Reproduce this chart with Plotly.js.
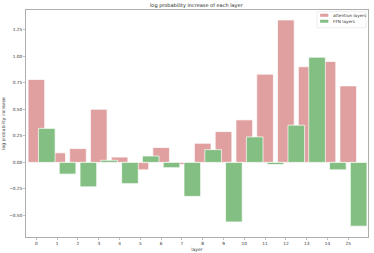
<!DOCTYPE html>
<html><head><meta charset="utf-8">
<script src="https://cdn.plot.ly/plotly-3.0.1.min.js"></script>
<style>html,body{margin:0;padding:0;background:#fff}#c{width:374px;height:253px}</style>
</head><body><div id="c"></div>
<script>
const layers = [0,1,2,3,4,5,6,7,8,9,10,11,12,13,14,15];
const layerLabels = ["0","1","2","3","4","5","6","7","8","9","10","11","12","13","14","25"];
const attentionValues = [0.78,0.09,0.13,0.50,0.05,-0.07,0.14,-0.02,0.18,0.29,0.40,0.83,1.34,0.90,0.95,0.72];
const ffnValues = [0.32,-0.11,-0.23,0.02,-0.20,0.06,-0.05,-0.32,0.12,-0.56,0.24,-0.02,0.35,0.99,-0.07,-0.60];
const yTicks = [-0.5,-0.25,0,0.25,0.5,0.75,1.0,1.25];
const seriesNames = ['attention layers','FFN layers'];
const seriesColors = ['rgb(224,160,159)','rgb(131,191,131)'];

const traces = [
  {type:'bar', name:seriesNames[0], x:layers, y:attentionValues, width:0.8,
   marker:{color:seriesColors[0], line:{color:'#fff', width:0.7}}},
  {type:'bar', name:seriesNames[1], x:layers.map(v=>v+0.5), y:ffnValues, width:0.8,
   marker:{color:seriesColors[1], line:{color:'#fff', width:0.7}}}
];
// small matplotlib-like legend drawn with shapes/annotations
const shapes = [
  {type:'rect', xref:'paper', yref:'paper', x0:0.851, x1:0.994, y0:0.922, y1:0.9925,
   fillcolor:'rgba(255,255,255,0.85)', line:{color:'#ddd', width:0.5}},
  {type:'rect', xref:'paper', yref:'paper', x0:0.860, x1:0.884, y0:0.970, y1:0.9837,
   fillcolor:seriesColors[0], line:{width:0}},
  {type:'rect', xref:'paper', yref:'paper', x0:0.860, x1:0.884, y0:0.944, y1:0.957,
   fillcolor:seriesColors[1], line:{width:0}}
];
const annotations = [
  {xref:'paper', yref:'paper', x:0.892, y:0.977, xanchor:'left', yanchor:'middle', showarrow:false,
   text:seriesNames[0], font:{family:'DejaVu Sans', size:4.2, color:'#333'}},
  {xref:'paper', yref:'paper', x:0.892, y:0.9505, xanchor:'left', yanchor:'middle', showarrow:false,
   text:seriesNames[1], font:{family:'DejaVu Sans', size:4.2, color:'#333'}}
];
const layout = {
  width:374, height:253, barmode:'overlay', bargap:0,
  margin:{l:25.7, r:6, t:10.3, b:16.3},
  paper_bgcolor:'#fff', plot_bgcolor:'#fff',
  font:{family:'DejaVu Sans', size:4.5, color:'#333'},
  title:{text:'log probability increase of each layer', font:{family:'DejaVu Sans', size:5, color:'#222'}, x:0.525, xanchor:'center', y:0.985, yanchor:'top'},
  xaxis:{range:[-0.5,15.95], tickvals:layers, ticktext:layerLabels, showgrid:false, zeroline:false,
    showline:true, mirror:true, linecolor:'#999', linewidth:0.8, ticks:'outside', ticklen:2, tickcolor:'#999', tickwidth:0.6,
    tickfont:{family:'DejaVu Sans', size:4.3, color:'#333'},
    title:{text:'layer', font:{family:'DejaVu Sans', size:4.5, color:'#333'}, standoff:2}},
  yaxis:{range:[-0.702,1.434], tickvals:yTicks, ticktext:yTicks.map(v=>(v<0?'\u2212':'')+Math.abs(v).toFixed(2)), showgrid:false, zeroline:false,
    showline:true, mirror:true, linecolor:'#999', linewidth:0.8, ticks:'outside', ticklen:2, tickcolor:'#999', tickwidth:0.6,
    tickfont:{family:'DejaVu Sans', size:4.3, color:'#333'},
    title:{text:'log probability increase', font:{family:'DejaVu Sans', size:4.5, color:'#333'}, standoff:3}},
  showlegend:false,
  shapes:shapes, annotations:annotations
};
Plotly.newPlot('c', traces, layout, {staticPlot:true, displayModeBar:false});
</script></body></html>
